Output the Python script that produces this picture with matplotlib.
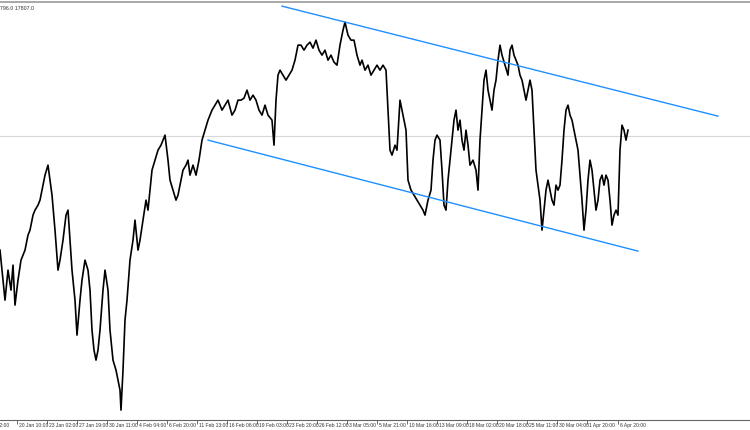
import numpy as np
import matplotlib.pyplot as plt

# bar index (one index per chart column) and price
bars = [0, 3, 5, 8, 11, 13, 15, 18, 21, 25, 28, 30, 33, 35, 38, 40, 43, 45, 48, 50,
        52, 55, 58, 60, 63, 66, 68, 70, 72, 75, 77, 80, 82, 85, 88, 90, 92, 94, 96, 98,
        100, 103, 105, 108, 110, 113, 116, 118, 120, 121, 123, 125, 127, 130, 133, 135,
        138, 140, 143, 146, 148, 150, 152, 155, 158, 161, 163, 165, 168, 170, 173, 176,
        178, 180, 183, 186, 188, 190, 193, 196, 199, 202, 205, 208, 210, 212, 215, 218,
        222, 225, 228, 232, 235, 238, 241, 244, 247, 250, 253, 256, 259, 262, 265, 268,
        272, 274, 276, 278, 280, 283, 286, 289, 292, 295, 298, 301, 304, 307, 310, 313,
        316, 319, 322, 325, 328, 331, 334, 337, 340, 343, 345, 348, 351, 354, 357, 360,
        362, 365, 368, 371, 374, 377, 380, 383, 386, 388, 390, 392, 395, 397, 400, 402,
        404, 406, 408, 411, 414, 417, 420, 423, 425, 428, 431, 433, 435, 437, 440, 442,
        444, 446, 448, 450, 452, 454, 456, 458, 460, 462, 464, 466, 468, 470, 473, 476,
        478, 480, 482, 484, 486, 488, 490, 492, 494, 496, 498, 500, 502, 505, 508, 510,
        512, 514, 516, 518, 520, 522, 524, 526, 528, 530, 532, 534, 536, 538, 540, 542,
        544, 546, 548, 550, 552, 554, 556, 558, 560, 562, 564, 566, 568, 570, 572, 574,
        576, 578, 580, 582, 584, 586, 588, 590, 592, 594, 596, 598, 600, 602, 604, 606,
        608, 610, 612, 614, 616, 618, 620, 622, 624, 626, 628]
price = [17454, 17364, 17304, 17394, 17334, 17409, 17289, 17364, 17424, 17454, 17499, 17514,
         17559, 17574, 17589, 17604, 17649, 17679, 17709, 17664, 17619, 17514, 17394, 17424,
         17484, 17559, 17574, 17484, 17394, 17304, 17199, 17304, 17364, 17424, 17394, 17334,
         17214, 17154, 17124, 17154, 17214, 17334, 17394, 17334, 17214, 17124, 17094, 17064,
         17034, 16974, 17094, 17244, 17304, 17424, 17484, 17544, 17454, 17484, 17544, 17604,
         17574, 17634, 17694, 17724, 17754, 17769, 17784, 17799, 17724, 17664, 17634, 17604,
         17619, 17649, 17694, 17709, 17724, 17679, 17709, 17679, 17724, 17784, 17814, 17844,
         17859, 17874, 17889, 17904, 17874, 17889, 17904, 17859, 17874, 17904, 17904, 17910,
         17934, 17904, 17919, 17904, 17874, 17859, 17889, 17859, 17844, 17769, 17904, 17979,
         17994, 17979, 17964, 17979, 17994, 18024, 18069, 18069, 18054, 18069, 18078, 18060,
         18084, 18054, 18039, 18054, 18024, 18039, 18018, 18009, 18069, 18114, 18138, 18099,
         18084, 18084, 18039, 18009, 18024, 17994, 18009, 17979, 17994, 18009, 17994, 18009,
         17994, 17874, 17754, 17739, 17769, 17754, 17904, 17874, 17844, 17814, 17664, 17634,
         17619, 17604, 17589, 17574, 17559, 17604, 17634, 17724, 17784, 17799, 17784, 17694,
         17589, 17574, 17664, 17724, 17784, 17844, 17874, 17814, 17844, 17784, 17754, 17814,
         17769, 17709, 17724, 17694, 17634, 17784, 17874, 17964, 17994, 17934, 17904, 17874,
         17934, 17964, 18024, 18069, 18039, 18009, 17979, 18054, 18069, 18039, 18024, 18009,
         17979, 17964, 17934, 17904, 17934, 17964, 17934, 17814, 17694, 17649, 17604, 17514,
         17574, 17634, 17664, 17634, 17604, 17589, 17649, 17634, 17649, 17724, 17814, 17874,
         17889, 17859, 17844, 17814, 17784, 17754, 17679, 17604, 17514, 17574, 17664, 17724,
         17694, 17634, 17574, 17604, 17664, 17679, 17649, 17679, 17664, 17604, 17529, 17559,
         17574, 17559, 17754, 17829, 17814, 17784, 17814]

# channel lines (bar, price)
upper_bars = [282, 718]
upper_price = [18186, 17856]
lower_bars = [208, 638]
lower_price = [17784, 17451]
bid_level = 17796

tick_bars = [-22, 17, 47, 77, 107, 137, 167, 197, 227, 257, 287, 317, 347, 377, 407, 437,
             467, 497, 527, 557, 587, 618]
tick_labels = ["16 Jan 02:00", "20 Jan 10:00", "23 Jan 02:00", "27 Jan 19:00", "30 Jan 11:00",
               "4 Feb 04:00", "6 Feb 20:00", "11 Feb 13:00", "16 Feb 06:00",
               "19 Feb 03:00", "23 Feb 20:00", "26 Feb 12:00", "3 Mar 05:00",
               "5 Mar 21:00", "10 Mar 16:00", "13 Mar 09:00", "18 Mar 02:00",
               "20 Mar 18:00", "25 Mar 11:00", "30 Mar 04:00", "1 Apr 20:00",
               "6 Apr 20:00"]

fig = plt.figure(figsize=(7.5, 4.3), dpi=100)
ax = fig.add_axes([0, 0.023, 1, 0.972])

ax.axhline(bid_level, color="#d8d8d8", lw=0.8, zorder=1)
ax.plot(bars, price, color="black", lw=1.2, zorder=2)
ax.plot(upper_bars, upper_price, color="#1e90ff", lw=1.0, zorder=3)
ax.plot(lower_bars, lower_price, color="#1e90ff", lw=1.0, zorder=3)

ax.set_xlim(0, 750)
ax.set_ylim(16944, 18198)
ax.set_yticks([])
ax.set_xticks([t for t in tick_bars if t >= 0])
ax.set_xticklabels([])
ax.tick_params(axis="x", direction="out", length=3, width=0.6, color="#555555")

xform = ax.get_xaxis_transform()
for t, lab in zip(tick_bars, tick_labels):
    ax.text(t + 2, -0.006, lab, transform=xform, fontsize=3.6,
            family="Liberation Sans", color="#333333", ha="left", va="top",
            clip_on=False)

for side in ["left", "right"]:
    ax.spines[side].set_visible(False)
ax.spines["top"].set_color("#999999")
ax.spines["top"].set_linewidth(1.2)
ax.spines["bottom"].set_color("#666666")
ax.spines["bottom"].set_linewidth(0.8)

fig.text(0.0, 0.985, "796.0 17807.0", fontsize=3.8, family="Liberation Sans",
         color="#333333", ha="left", va="top")

fig.savefig("out.png", dpi=100)
